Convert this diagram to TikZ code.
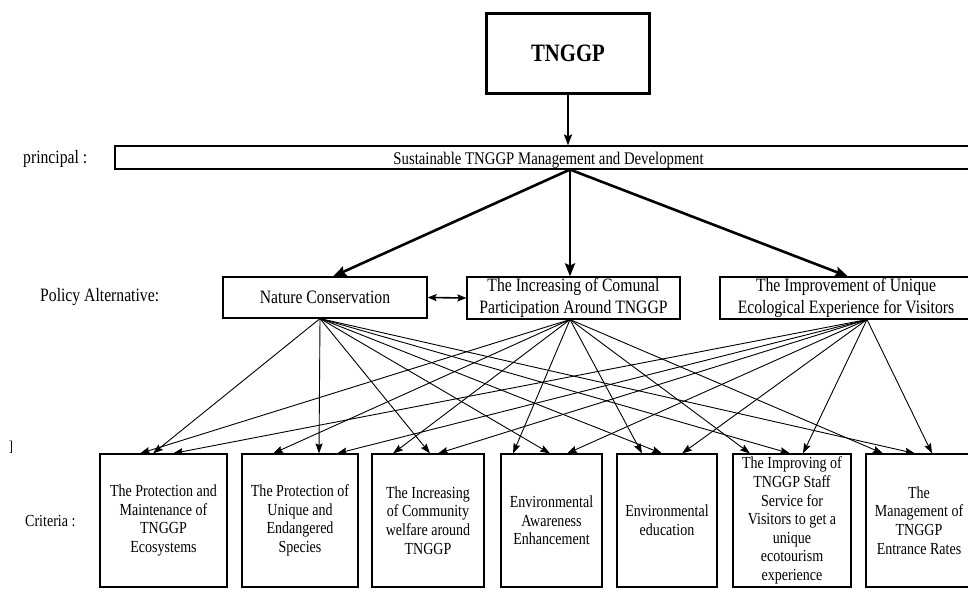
\documentclass[tikz,border=0pt]{standalone}
\usepackage{fontspec}
\setmainfont{Liberation Serif}[FakeStretch=0.83]
\usetikzlibrary{arrows.meta}
\begin{document}
\begin{tikzpicture}[x=1pt,y=-1pt,
  lab/.style={inner sep=0pt, anchor=west, font=\fontsize{18.9}{21}\selectfont},
  topbox/.style={draw, line width=3.5pt, inner sep=0pt, minimum width=163pt, minimum height=80pt, font=\fontsize{25}{28}\bfseries\selectfont},
  goalbox/.style={draw, line width=1.1pt, inner sep=0pt, minimum height=23pt, text height=15pt, text depth=1pt, font=\fontsize{17.8}{19}\selectfont},
  polbox/.style={draw, line width=1.1pt, inner sep=0pt, align=center, minimum height=41pt, font=\fontsize{18.9}{21.5}\selectfont},
  critbox/.style={draw, line width=1.1pt, inner sep=0pt, align=center, minimum height=133pt, font=\fontsize{16.9}{18.6}\selectfont},
  bigarrow/.style={line width=2.6pt, -{Stealth[length=13pt,width=10pt,inset=2pt]}},
  midarrow/.style={line width=2pt, -{Stealth[length=11pt,width=8pt,inset=2pt]}},
  duoarrow/.style={line width=1.6pt, {Stealth[length=9pt,width=7pt,inset=1.5pt]}-{Stealth[length=9pt,width=7pt,inset=1.5pt]}},
  smallarrow/.style={line width=0.9pt, -{Stealth[length=10pt,width=7pt,inset=1.5pt]}}
]
\clip (0,0) rectangle (968,592);

% top
\node[topbox] (tnggp) at (568,53.5) {TNGGP};
\node[goalbox, minimum width=867pt] (goal) at (548.5,157.5) {Sustainable TNGGP Management and Development};
\draw[midarrow] (tnggp.south) -- (tnggp.south |- goal.north);

% labels
\node[lab] (lprin) at (23,159) {principal :};
\node[lab] (lpol) at (40,297) {Policy Alternative:};
\node[lab, font=\fontsize{16.9}{19}\selectfont] (lcrit) at (25,521) {Criteria :};
\node[inner sep=0pt, font=\fontsize{15}{17}\selectfont] (brk) at (11,447) {]};

% policy alternatives
\node[polbox, minimum width=204pt] (nc) at (325,297.5) {Nature Conservation};
\node[polbox, minimum width=213pt, minimum height=42pt] (com) at (573.5,298) {The Increasing of Comunal\\Participation Around TNGGP};
\node[polbox, minimum width=252pt, minimum height=42pt] (imp) at (846,298) {The Improvement of Unique\\Ecological Experience for Visitors};

\coordinate (gs) at ([xshift=21.5pt]goal.south);
\draw[bigarrow] (gs) -- ([xshift=8pt]nc.north);
\draw[bigarrow] (gs) -- ([xshift=-3.5pt]com.north);
\draw[bigarrow] (gs) -- ([xshift=2pt]imp.north);
\draw[duoarrow] (nc.east) -- (com.west);

% criteria
\node[critbox, minimum width=127pt] (c1) at (163.5,520.5) {The Protection and\\Maintenance of\\TNGGP\\Ecosystems};
\node[critbox, minimum width=116pt] (c2) at (300,520.5) {The Protection of\\Unique and\\Endangered\\Species};
\node[critbox, minimum width=112pt] (c3) at (428,520.5) {The Increasing\\of Community\\welfare around\\TNGGP};
\node[critbox, minimum width=101pt] (c4) at (551.5,520.5) {Environmental\\Awareness\\Enhancement};
\node[critbox, minimum width=100pt] (c5) at (667,520.5) {Environmental\\education};
\node[critbox, minimum width=118pt] (c6) at (792,520.5) {The Improving of\\TNGGP Staff\\Service for\\Visitors to get a\\unique\\ecotourism\\experience};
\node[critbox, minimum width=106pt] (c7) at (919,520.5) {The\\Management of\\TNGGP\\Entrance Rates};

\coordinate (ncs) at ([xshift=-5pt]nc.south);
\coordinate (coms) at ([xshift=-3.5pt]com.south);
\coordinate (imps) at ([xshift=21pt]imp.south);

% from Nature Conservation
\draw[smallarrow] (ncs) -- ([xshift=-10.5pt]c1.north);
\draw[smallarrow] (ncs) -- ([xshift=19pt]c2.north);
\draw[smallarrow] (ncs) -- ([xshift=2pt]c3.north);
\draw[smallarrow] (ncs) -- ([xshift=-1.5pt]c4.north);
\draw[smallarrow] (ncs) -- ([xshift=-5pt]c5.north);
\draw[smallarrow] (ncs) -- ([xshift=-2pt]c6.north);
\draw[smallarrow] (ncs) -- ([xshift=-4pt]c7.north);

% from Comunal participation
\draw[smallarrow] (coms) -- ([xshift=-23.5pt]c1.north);
\draw[smallarrow] (coms) -- ([xshift=-27pt]c2.north);
\draw[smallarrow] (coms) -- ([xshift=-35pt]c3.north);
\draw[smallarrow] (coms) -- ([xshift=-38.5pt]c4.north);
\draw[smallarrow] (coms) -- ([xshift=-25pt]c5.north);
\draw[smallarrow] (coms) -- ([xshift=-42pt]c6.north);
\draw[smallarrow] (coms) -- ([xshift=-36pt]c7.north);

% from Improvement
\draw[smallarrow] (imps) -- ([xshift=9.5pt]c1.north);
\draw[smallarrow] (imps) -- ([xshift=37pt]c2.north);
\draw[smallarrow] (imps) -- ([xshift=10pt]c3.north);
\draw[smallarrow] (imps) -- ([xshift=15.5pt]c4.north);
\draw[smallarrow] (imps) -- ([xshift=15pt]c5.north);
\draw[smallarrow] (imps) -- ([xshift=11pt]c6.north);
\draw[smallarrow] (imps) -- ([xshift=13pt]c7.north);
\end{tikzpicture}
\end{document}
